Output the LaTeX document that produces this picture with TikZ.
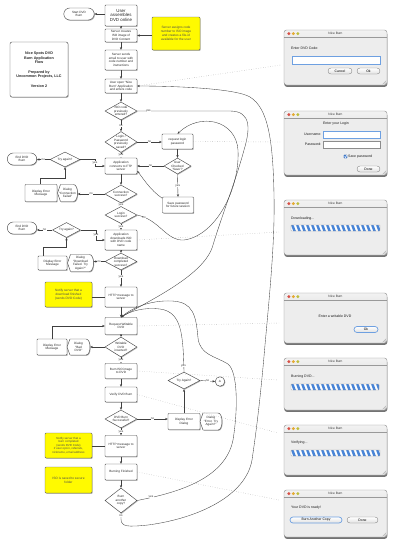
\documentclass[tikz,border=0pt]{standalone}
\usepackage{fontspec}
\setmainfont{Liberation Sans}
\usetikzlibrary{shapes.geometric,shapes.misc,shadows,arrows.meta,fit}
\definecolor{pblue}{RGB}{72,132,214}
\definecolor{ring}{RGB}{110,160,225}
\definecolor{tlred}{RGB}{215,80,70}
\definecolor{tlyel}{RGB}{228,170,50}
\definecolor{tlgrn}{RGB}{190,190,60}
\definecolor{notey}{RGB}{255,250,0}
\newcommand\dlgshape[6]{%
  \path[dshp] ({#2-#4/2+3},{#3-#5/2}) -- ({#2-#4/2},#3) -- ({#2-#4/2+3},{#3+#5/2}) -- ({#2+#4/2-4},{#3+#5/2}) .. controls ({#2+#4/2+1.3},{#3+#5/2}) and ({#2+#4/2+1.3},{#3-#5/2}) .. ({#2+#4/2-4},{#3-#5/2}) -- cycle;
  \node[base, minimum width=#4pt, minimum height=#5pt] (#1) at (#2,#3) {#6};}
\newcommand\macwin[5]{%
  \node[win, fit={(#2,#3) (#4,#5)}] (#1) {};
  \fill[tlred] ([xshift=5pt,yshift=-3.8pt]#1.north west) circle (1.6pt);
  \fill[tlyel] ([xshift=9.5pt,yshift=-3.8pt]#1.north west) circle (1.6pt);
  \fill[tlgrn] ([xshift=14pt,yshift=-3.8pt]#1.north west) circle (1.6pt);
  \node[wtitle] (#1t) at ([yshift=-3.8pt]#1.north) {Nice Burn};
  \draw[black!35, line width=0.25pt] ([xshift=-1pt,yshift=4.5pt]#1.south east) -- ([xshift=-4.5pt,yshift=1pt]#1.south east) ([xshift=-1pt,yshift=2.8pt]#1.south east) -- ([xshift=-2.8pt,yshift=1pt]#1.south east);}
\newcommand\pbar[5]{\node[pb, fit={(#2,#3) (#4,#5)}] (#1) {};}
\begin{document}
\begin{tikzpicture}[x=1pt,y=-1pt,
  base/.style={font=\fontsize{3.1}{3.6}\selectfont, align=center, inner sep=0.3pt, text=black!85},
  shd/.style={drop shadow={shadow xshift=0.7pt,shadow yshift=-0.8pt,opacity=0.3,fill=black}},
  box/.style={base, shd, draw=black!70, fill=white, line width=0.45pt, rounded corners=0.7pt, minimum width=32pt},
  dia/.style={base, shd, diamond, draw=black!70, fill=white, line width=0.45pt, inner sep=0pt},
  term/.style={base, shd, rounded rectangle, draw=black!70, fill=white, line width=0.45pt, minimum width=31pt, minimum height=12pt},
  note/.style={base, shd, draw=black!60, fill=notey, rounded corners=1pt, line width=0.45pt, text=black!70, font=\fontsize{3.2}{3.8}\selectfont},
  dshp/.style={shd, draw=black!70, fill=white, line width=0.45pt},
  lab/.style={font=\fontsize{3}{3.5}\selectfont, fill=white, inner sep=0.3pt, text=black!80},
  arr/.style={-{Stealth[length=2.6pt,width=2.2pt]}, line width=0.35pt, draw=black!75},
  ln/.style={line width=0.35pt, draw=black!75},
  dot/.style={dotted, draw=black!40, line width=0.4pt},
  win/.style={inner sep=0pt, draw=black!45, line width=0.4pt, fill=black!7, rounded corners=2.5pt,
    drop shadow={shadow xshift=0.3pt, shadow yshift=-1.8pt, opacity=0.55, fill=black},
    path picture={\shade[top color=black!5, bottom color=black!25] (path picture bounding box.north west) rectangle ([yshift=-7.5pt]path picture bounding box.north east);
      \draw[black!40, line width=0.3pt] ([yshift=-7.5pt]path picture bounding box.north west) -- ([yshift=-7.5pt]path picture bounding box.north east);}},
  wtitle/.style={font=\fontsize{3.2}{3.6}\selectfont, inner sep=0pt, text=black!80},
  dtext/.style={font=\fontsize{3.5}{4.1}\selectfont, inner sep=0pt, text=black!90},
  field/.style={inner sep=0pt, draw=black!45, fill=white, line width=0.3pt},
  focus/.style={draw=ring, line width=0.7pt},
  btn/.style={font=\fontsize{3.4}{4}\selectfont, draw=black!50, line width=0.35pt, rounded corners=3pt, top color=white, bottom color=black!12, inner sep=0pt, minimum height=6pt},
  dflt/.style={draw=ring, line width=0.7pt},
  pb/.style={inner sep=0pt, draw=black!40, line width=0.3pt, fill=white, rounded corners=0.6pt,
    path picture={\foreach \k in {-1,...,20}{\fill[pblue] ([xshift=\k*5pt]path picture bounding box.north west) -- ++(2.6pt,0) -- ++(3pt,-8pt) -- ++(-2.6pt,0) -- cycle;}}},
  chk/.style={inner sep=0pt, minimum size=3.2pt, fill=pblue, draw=pblue!70!black, line width=0.2pt, rounded corners=0.4pt}
]
\fill[white] (0,0) rectangle (400,542);
\useasboundingbox (0,0) rectangle (400,542);

% ---------- main column ----------
\node[box, minimum height=21pt, font=\fontsize{4.4}{4.6}\selectfont] (u1) at (121,15.5) {User\\assembles\\DVD online};
\node[box, minimum height=13pt] (s1) at (121,35.5) {Server creates\\ISO image of\\DVD Content};
\node[box, minimum height=20pt] (s2) at (121,60) {Server sends\\email to user with\\code number and\\instructions};
\node[box, minimum height=14pt] (u2) at (121,86) {User open ``Nice\\Burn'' Application\\and enters code};
\node[dia, minimum width=32pt, minimum height=18pt, label={[base]center:ISO code\\previously\\entered?}] (d1) at (121,111) {};
\node[dia, minimum width=32pt, minimum height=21pt, label={[base]center:Login /\\Password\\previously\\saved?}] (d2) at (121,142) {};
\node[box, minimum width=31pt, minimum height=15pt] (r1) at (177.5,141.5) {request login\\password};
\node[dia, minimum width=27pt, minimum height=16pt, label={[base]center:User\\Checked\\`Save'?}] (d3) at (177.5,166) {};
\node[box, minimum width=31pt, minimum height=16pt] (sv) at (178,205) {Save password\\for future session};
\node[box, minimum height=16pt] (ftp) at (121,166) {Application\\connects to FTP\\server};
\node[dia, minimum width=32pt, minimum height=18pt, label={[base]center:Connection\\success?}] (d4) at (121,194) {};
\node[dia, minimum width=32pt, minimum height=17pt, label={[base]center:Login\\success?}] (d5) at (121,215) {};
\node[box, minimum height=20pt] (dl) at (121,240) {Application\\downloads ISO\\with DVD code\\name};
\node[dia, minimum width=32pt, minimum height=17pt, label={[base]center:Download\\completed\\success?}] (d6) at (121,261.5) {};
\node[box, minimum height=20pt] (h1) at (121,297) {HTTP message to\\server};
\node[box, minimum height=17pt] (rw) at (121,326) {Request Writable\\DVD};
\node[dia, minimum width=32pt, minimum height=20pt, label={[base]center:Writable\\DVD\\inserted?}] (d7) at (121,347) {};
\node[box, minimum height=15pt] (bi) at (121,371) {Burn ISO image\\to DVD};
\node[box, minimum height=15pt] (vf) at (121,394.5) {Verify DVD Burn};
\node[dia, minimum width=32pt, minimum height=18pt, label={[base]center:DVD Burn\\Successful?}] (d8) at (121,419) {};
\node[box, minimum height=21pt] (h2) at (121,446) {HTTP message to\\server};
\node[box, minimum height=16pt] (bf) at (121,472) {Burning Finished};
\node[dia, minimum width=32pt, minimum height=25pt, label={[base]center:Burn\\another\\copy?}] (d9) at (121,500.5) {};

% ---------- left side ----------
\node[term] (st) at (79,14) {Start DVD\\Burn};
\node[box, minimum width=58pt, minimum height=55pt, rounded corners=2pt, font=\fontsize{3.7}{4.7}\selectfont\bfseries] (tt) at (39,69.5) {Nice Spots DVD\\Burn Application\\Flow\\[4.7pt]Prepared by\\Uncommon Projects, LLC\\[4.7pt]Version 2};
\node[term, minimum width=30pt] (e1) at (22,159) {End DVD\\Burn};
\node[dia, minimum width=30pt, minimum height=15pt, label={[base]center:Try again?}] (ta1) at (65,159.5) {};
\node[box, minimum width=32pt, minimum height=17pt] (em1) at (41,193) {Display Error\\Message};
\dlgshape{dg1}{67.5}{193}{20}{17}{Dialog\\``Connection\\Failed''}
\node[term, minimum width=30pt] (e2) at (22,228) {End DVD\\Burn};
\node[dia, minimum width=28pt, minimum height=15pt, label={[base]center:Try again?}] (ta2) at (66.5,230) {};
\node[box, minimum width=29pt, minimum height=14pt] (em2) at (52.5,263) {Display Error\\Message};
\dlgshape{dg2}{80.5}{263}{26}{17}{Dialog\\``Download\\Failed. Try\\Again?''}
\node[note, minimum width=47pt, minimum height=25pt] (n2) at (68.5,294.5) {Notify server that a\\download finished\\(sends DVD Code)};
\node[box, minimum width=30pt, minimum height=16pt] (em3) at (52,347) {Display Error\\Message};
\dlgshape{dg3}{78.5}{347}{23}{16}{Dialog\\``Bad\\DVD''}
\node[note, minimum width=47pt, minimum height=25pt, font=\fontsize{2.9}{3.5}\selectfont] (n3) at (68.5,445.5) {Notify server that a\\burn completed\\(sends DVD Code)\\if user opt-in, referrals,\\nickname, email address};
\node[note, minimum width=47pt, minimum height=26pt] (n4) at (68.5,480) {ISO is saved to secure\\folder};
\node[note, minimum width=48pt, minimum height=33pt] (n1) at (176,33.5) {Server assigns code\\number to ISO image\\and creates a file-id\\available for the user};

% ---------- right middle ----------
\node[dia, minimum width=32pt, minimum height=17pt, label={[base]center:Try Again?}] (ta3) at (184,380.5) {};
\node[base, shd, circle, draw=black!70, fill=white, line width=0.45pt, minimum size=9.5pt, inner sep=0pt] (ca) at (220,381.5) {A};
\node[box, minimum width=32pt, minimum height=16pt] (ed) at (184,421.5) {Display Error\\Dialog};
\dlgshape{dg4}{211}{421.5}{22}{17}{Dialog\\``Error. Try\\Again?''}

% ---------- connectors ----------
\draw[arr] (u1.west |- st.east) -- (st.east);
\draw[arr] (n1.west |- s1.east) -- (s1.east);
\draw[arr] (u1.south) -- (s1.north);
\draw[arr] (s1.south) -- (s2.north);
\draw[arr] (s2.south) -- (u2.north);
\draw[arr] (u2.south) -- (d1.north);
\draw[arr] (d1.south) -- node[lab] (lno1) {no} (d2.north);
\draw[arr] (d2.south) -- node[lab] (lye2) {yes} (ftp.north);
\draw[arr] (d2.east) -- node[lab] (lno2) {no} (d2.east -| r1.west);
\draw[arr] (r1.south) -- (d3.north);
\draw[arr] (d3.west) -- node[lab] (lno3) {no} (d3.west -| ftp.east);
\draw[arr] (d3.south) -- node[lab] (lye3) {yes} (sv.north);
\draw[arr] ([yshift=-1.5pt]sv.north west) .. controls (150,190) and (143,178) .. ([yshift=-5pt]ftp.east);
\draw[arr] (ftp.south) -- (d4.north);
\draw[arr] (d4.south) -- node[lab] (lye4) {yes} (d5.north);
\draw[arr] (d4.west) -- node[lab] (lno4) {no} (d4.west -| dg1.east);
\coordinate (k1) at (65,178);
\draw[arr] ([xshift=-1pt]em1.north) |- (k1) -- (ta1.south);
\draw[arr] (ta1.west) -- node[lab] (lno5) {no} (ta1.west -| e1.east);
\coordinate (k2) at (95,159.5);
\draw[arr] (ta1.east) -- (k2) |- (ftp.west);
\node[lab] (lye5) at (95,162.5) {yes};
\draw[arr] (d5.south) -- node[lab] (lye6) {yes} (dl.north);
\draw[arr] (dl.south) -- (d6.north);
\draw[arr] (d6.west) -- node[lab] (lno6) {no} (d6.west -| dg2.east);
\coordinate (k3) at (66.5,247);
\draw[arr] ([xshift=-9pt]em2.north) |- (k3) -- (ta2.south);
\draw[arr] (ta2.west) -- node[lab] (lno7) {no} (ta2.west -| e2.east);
\coordinate (k4) at (96,230);
\draw[arr] (ta2.east) -- (k4) |- (dl.west);
\node[lab] (lye7) at (96,235) {yes};
\draw[arr] (d6.south) -- node[lab, pos=0.4] (lye8) {yes} (h1.north);
\draw[ln] (n2.east |- h1.west) -- (h1.west);
\draw[arr] (h1.south) -- (rw.north);
\draw[arr] (rw.south) -- (d7.north);
\draw[arr] (d7.west) -- (d7.west -| dg3.east);
\draw[arr] (em3.north) |- (rw.west);
\draw[arr] (d7.south) -- node[lab] (lye9) {yes} (bi.north);
\draw[arr] (bi.south) -- (vf.north);
\draw[arr] (vf.south) -- (d8.north);
\draw[arr] (d8.east) -- node[lab] (lno8) {no} (d8.east -| ed.west);
\draw[arr] (ed.north) -- (ta3.south);
\draw[arr] (ta3.east) -- node[lab] (lno9) {no} (ca.west);
\draw[arr] (d8.south) -- node[lab] (lye10) {yes} (h2.north);
\draw[ln] (n3.east |- h2.west) -- (h2.west);
\draw[arr] (h2.south) -- (bf.north);
\draw[arr] (bf.south) -- (d9.north);

% long curves
\draw[arr] (d1.east) -- node[lab, pos=0.12] (lye1) {yes} (230,111) .. controls (252,111) and (250,130) .. (244,150) .. controls (236,180) and (222,215) .. (213,245) .. controls (205,275) and (150,300) .. (rw.north);
\draw[arr] (d5.east) .. controls (160,220) and (166,241) .. (184,240) .. controls (215,236) and (240,190) .. (238,150) .. controls (236,120) and (200,112) .. (r1.north);
\node[lab] (lno10) at (144,218) {no};
\draw[arr] (d9.east) .. controls (175,493) and (225,480) .. (233,440) .. controls (238,410) and (238,372) .. (228,364) .. controls (215,356) and (200,355) .. (198,338) .. controls (196,315) and (193,302) .. (172,301) .. controls (150,300) and (132,308) .. (rw.north);
\node[lab] (lye11) at (151,497) {yes};
\draw[arr] (ta3.north) .. controls (183,335) and (182,312) .. (160,309) .. controls (145,307) and (130,311) .. (rw.north);
\node[lab] (lye12) at (183.5,366) {yes};
\draw[arr] (d9.south) -- (121,519) .. controls (121,527) and (128,527) .. (148,525) .. controls (200,518) and (246,495) .. (252,460) .. controls (258,420) and (262,380) .. (265,345) .. controls (270,290) and (275,240) .. (274,195) .. controls (273,140) and (268,108) .. (250,97) .. controls (235,88) and (170,86) .. (u2.east);
\node[lab] (lno11) at (121,515.5) {no};

% ---------- dialogs ----------
\macwin{dA}{284}{30}{387}{85}
\node[dtext, anchor=west] (dAa) at (291,48.5) {Enter DVD Code:};
\node[field, focus, fit={(292,56) (380,64)}] (dAf) {};
\node[btn, minimum width=24pt] (dAc) at (340,71) {Cancel};
\node[btn, minimum width=23pt] (dAo) at (368.5,71) {Ok};

\macwin{dB}{284}{111}{387}{175}
\node[dtext] (dBa) at (336,124) {Enter your Login};
\node[dtext, anchor=east] (dBu) at (321.5,134.5) {Username:};
\node[field, focus, fit={(323,131) (380,138)}] (dBf1) {};
\node[dtext, anchor=east] (dBp) at (321.5,144.5) {Password:};
\node[field, fit={(323,141) (380,148)}] (dBf2) {};
\node[chk] (dBc) at (345.5,156.5) {};
\draw[white, line width=0.45pt] ([xshift=-1pt]dBc.center) -- ([yshift=-1pt]dBc.center) -- ([xshift=1.2pt,yshift=1.3pt]dBc.center);
\node[dtext, anchor=west] (dBs) at (348,156.5) {Save password};
\node[btn, minimum width=23pt] (dBd) at (368.5,169) {Done};

\macwin{dC}{284}{200}{387}{255}
\node[dtext, anchor=west] (dCa) at (291,218.5) {Downloading...};
\pbar{dCb}{291}{225}{380}{231}

\macwin{dD}{284}{293}{387}{343}
\node[dtext] (dDa) at (335,316.5) {Enter a writable DVD};
\node[btn, dflt, minimum width=24pt] (dDo) at (366,329.5) {Ok};

\macwin{dE}{284}{358}{387}{410}
\node[dtext, anchor=west] (dEa) at (291,377) {Burning DVD...};
\pbar{dEb}{291}{384}{379}{390}

\macwin{dF}{284}{425}{387}{475}
\node[dtext, anchor=west] (dFa) at (291,443) {Verifying...};
\pbar{dFb}{291}{450}{380}{456}

\macwin{dG}{284}{490}{387}{537}
\node[dtext, anchor=west] (dGa) at (291,508) {Your DVD is ready!};
\node[btn, dflt, minimum width=52pt] (dGb) at (316,520) {Burn Another Copy};
\node[btn, minimum width=31pt] (dGd) at (362.5,520) {Done};

% dotted links to dialogs
\coordinate (w1) at (281,65);
\coordinate (w2) at (282,142);
\coordinate (w3) at (279,232);
\coordinate (w4) at (280,323);
\coordinate (w5) at (278,380);
\coordinate (w6) at (278,433);
\coordinate (w7) at (279,500);
\draw[dot] (u2.east) -- (w1);
\draw[dot] (r1.east) -- (w2);
\draw[dot] (dl.east) -- (w3);
\draw[dot] (rw.east) -- (w4);
\draw[dot] (bi.east) -- (w5);
\draw[dot] (vf.east) -- (w6);
\draw[dot] (bf.east) -- (w7);
\end{tikzpicture}
\end{document}
